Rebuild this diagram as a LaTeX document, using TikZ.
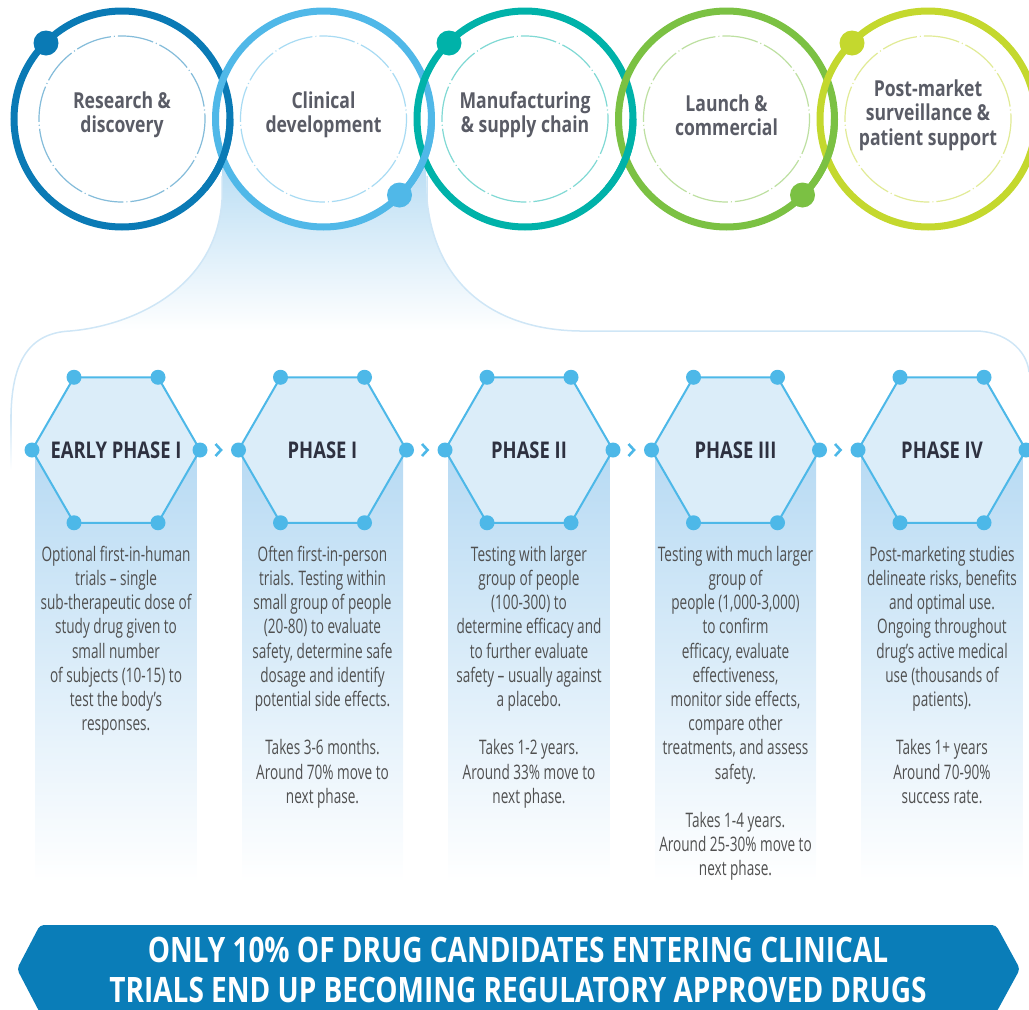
\documentclass[tikz,border=0pt]{standalone}
\usepackage{fontspec}
\setmainfont{Open Sans}
\newfontfamily\headfont[FakeStretch=0.80]{Open Sans}
\newfontfamily\bodyfont[FakeStretch=0.68]{Open Sans}

\definecolor{ringA}{HTML}{0A7AB5}
\definecolor{ringB}{HTML}{50B8E8}
\definecolor{ringC}{HTML}{00B2A9}
\definecolor{ringD}{HTML}{7BC143}
\definecolor{ringE}{HTML}{C4D82E}
\definecolor{labelgray}{HTML}{5A5C66}
\definecolor{headdark}{HTML}{2E3140}
\definecolor{bodygray}{HTML}{505050}
\definecolor{hexblue}{HTML}{4DB8E8}
\definecolor{hexfill}{HTML}{DBEDF9}
\definecolor{coltop}{HTML}{B7DAF3}
\definecolor{colmid}{HTML}{D3E9F8}
\definecolor{funtop}{HTML}{B5DBF3}
\definecolor{funmid}{HTML}{C6E4F6}
\definecolor{panelline}{HTML}{CFE6F6}
\definecolor{bannerblue}{HTML}{0A7DB8}

\begin{document}
\begin{tikzpicture}[x=1pt,y=-1pt,
  ring/.style={line width=7pt},
  innerring/.style={line width=1.2pt, dash pattern=on 36pt off 3pt on 1pt off 3pt},
  ringdot/.style={circle, inner sep=0pt, minimum size=25pt},
  stagelabel/.style={font=\headfont\bfseries\fontsize{22}{24.3}\selectfont, text=labelgray, align=center, inner sep=0pt},
  hexshape/.style={draw=hexblue, line width=2pt, fill=hexfill, line join=round},
  vdot/.style={circle, fill=hexblue, inner sep=0pt, minimum size=15pt},
  phaselabel/.style={font=\headfont\bfseries\fontsize{23}{26}\selectfont, text=headdark, inner sep=0pt},
  bodytext/.style={font=\bodyfont\fontsize{20}{24.2}\selectfont, text=bodygray, align=center, anchor=north, inner sep=0pt},
  chev/.style={draw=hexblue, line width=2.6pt},
  bannertext/.style={font=\headfont\bfseries\fontsize{35}{40}\selectfont, text=white, align=center, inner sep=0pt}
]
\useasboundingbox (0,0) rectangle (1029,1010);

% ---- light blue funnel flowing out of the clinical stage ----
\shade[top color=funtop, middle color=funmid, bottom color=white]
  (222,150) -- (222,200) .. controls (216,290) and (130,326) .. (70,331)
  -- (580,331) .. controls (500,330) and (436,290) .. (427,200) -- (425,150) -- cycle;
\draw[panelline, line width=1.5pt]
  (222,176) -- (222,200) .. controls (216,290) and (130,326) .. (70,331)
  .. controls (30,333) and (12,360) .. (11,415);
\draw[panelline, line width=1.5pt]
  (427,176) -- (427,200) .. controls (436,290) and (500,330) .. (580,331)
  -- (975,331) .. controls (1005,331) and (1027,350) .. (1029,372);
\shade[top color=panelline, bottom color=white] (10.25,414) rectangle (11.75,470);

% ---- stage circles ----
\foreach \cx in {122,323.5,525,726.5,928}
  \fill[white] (\cx,119) circle[radius=108];
\foreach \cx/\col in {122/ringA,323.5/ringB,525/ringC,726.5/ringD,928/ringE}
  \draw[innerring, draw=\col!50!white] (\cx,119) circle[radius=83];
\foreach \cx/\col in {122/ringA,323.5/ringB,525/ringC,726.5/ringD,928/ringE}
  \draw[ring, draw=\col] (\cx,119) circle[radius=108];
% interlocking: left ring passes over its neighbour at the lower crossing
\foreach \cx/\col in {122/ringA,323.5/ringB,525/ringC,726.5/ringD}
  \draw[ring, draw=\col] (\cx,119) ++(0:108) arc[start angle=0, end angle=40, radius=108];

\node[ringdot, fill=ringA] (dA) at (46,43) {};
\node[ringdot, fill=ringB] (dB) at (399.5,195) {};
\node[ringdot, fill=ringC] (dC) at (449,43) {};
\node[ringdot, fill=ringD] (dD) at (802.5,195) {};
\node[ringdot, fill=ringE] (dE) at (852,43) {};

\node[stagelabel] (sA) at (122,115) {Research \&\\discovery};
\node[stagelabel] (sB) at (323.5,115) {Clinical\\development};
\node[stagelabel] (sC) at (525,115) {Manufacturing\\\& supply chain};
\node[stagelabel] (sD) at (726.5,115) {Launch \&\\commercial};
\node[stagelabel] (sE) at (928,115) {Post-market\\surveillance \&\\patient support};

% ---- trial phase columns ----
\foreach \hc in {116,322.5,529,735.5,942}
  \shade[top color=coltop, middle color=colmid, bottom color=white]
    (\hc-80.5,449) rectangle (\hc+80.5,882);

\foreach \hc/\nm in {116/a,322.5/b,529/c,735.5/d,942/e}{
  \draw[hexshape] (\hc+84,450) -- (\hc+42,377.25) -- (\hc-42,377.25)
    -- (\hc-84,450) -- (\hc-42,522.75) -- (\hc+42,522.75) -- cycle;
  \node[vdot] (\nm1) at (\hc+84,450) {};
  \node[vdot] (\nm2) at (\hc+42,377.25) {};
  \node[vdot] (\nm3) at (\hc-42,377.25) {};
  \node[vdot] (\nm4) at (\hc-84,450) {};
  \node[vdot] (\nm5) at (\hc-42,522.75) {};
  \node[vdot] (\nm6) at (\hc+42,522.75) {};
}
\foreach \hc in {116,322.5,529,735.5}
  \draw[chev] (\hc+99.5,444) -- (\hc+105,450) -- (\hc+99.5,456);

\node[phaselabel] (pa) at (116,450) {EARLY PHASE I};
\node[phaselabel] (pb) at (322.5,450) {PHASE I};
\node[phaselabel] (pc) at (529,450) {PHASE II};
\node[phaselabel] (pd) at (735.5,450) {PHASE III};
\node[phaselabel] (pe) at (942,450) {PHASE IV};

\node[bodytext] (ta) at (116,544) {\rule{0pt}{17pt}Optional first-in-human\\trials – single\\sub-therapeutic dose of\\study drug given to\\small number\\of subjects (10-15) to\\test the body’s\\responses.};
\node[bodytext] (tb) at (322.5,544) {\rule{0pt}{17pt}Often first-in-person\\trials. Testing within\\small group of people\\(20-80) to evaluate\\safety, determine safe\\dosage and identify\\potential side effects.\\[24.2pt]Takes 3-6 months.\\Around 70\% move to\\next phase.};
\node[bodytext] (tc) at (529,544) {\rule{0pt}{17pt}Testing with larger\\group of people\\(100-300) to\\determine efficacy and\\to further evaluate\\safety – usually against\\a placebo.\\[24.2pt]Takes 1-2 years.\\Around 33\% move to\\next phase.};
\node[bodytext] (td) at (735.5,544) {\rule{0pt}{17pt}Testing with much larger\\group of\\people (1,000-3,000)\\to confirm\\efficacy, evaluate\\effectiveness,\\monitor side effects,\\compare other\\treatments, and assess\\safety.\\[24.2pt]Takes 1-4 years.\\Around 25-30\% move to\\next phase.};
\node[bodytext] (te) at (942,544) {\rule{0pt}{17pt}Post-marketing studies\\delineate risks, benefits\\and optimal use.\\Ongoing throughout\\drug’s active medical\\use (thousands of\\patients).\\[24.2pt]Takes 1+ years\\Around 70-90\%\\success rate.};

% ---- closing banner ----
\fill[bannerblue, rounded corners=4pt] (40,925) -- (996,925) -- (1020,969)
  -- (996,1013) -- (40,1013) -- (17,969) -- cycle;
\node[bannertext] (bn) at (518,970) {ONLY 10\% OF DRUG CANDIDATES ENTERING CLINICAL\\TRIALS END UP BECOMING REGULATORY APPROVED DRUGS};
\end{tikzpicture}
\end{document}
